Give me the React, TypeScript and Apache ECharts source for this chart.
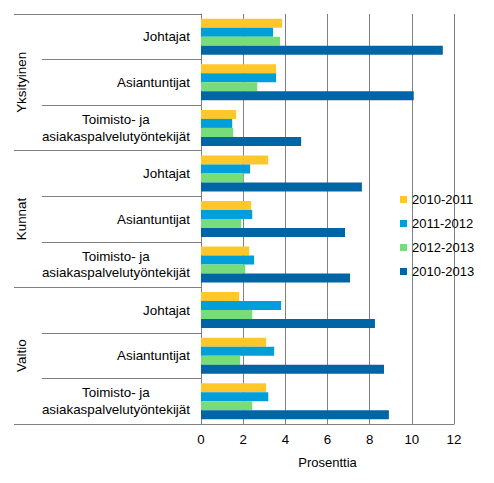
import { useEffect, useRef } from 'react';
import * as echarts from 'echarts';

const groups = ['Yksityinen', 'Kunnat', 'Valtio'];
const occupations = ['Johtajat', 'Asiantuntijat', 'Toimisto- ja\nasiakaspalvelutyöntekijät'];
const categories = groups.flatMap(() => occupations);

const seriesNames = ['2010-2011', '2011-2012', '2012-2013', '2010-2013'];
const values2010_2011 = [3.85, 3.56, 1.67, 3.19, 2.38, 2.29, 1.81, 3.09, 3.09];
const values2011_2012 = [3.42, 3.56, 1.48, 2.33, 2.43, 2.52, 3.8, 3.47, 3.19];
const values2012_2013 = [3.75, 2.67, 1.53, 2.02, 1.91, 2.1, 2.43, 1.86, 2.43];
const values2010_2013 = [11.47, 10.09, 4.75, 7.63, 6.83, 7.07, 8.25, 8.68, 8.91];
const colors = ['#FFC72C', '#009FDA', '#76DD7A', '#0065A4'];

const FONT = '"Liberation Sans", Arial, sans-serif';

export default function App() {
  const chartRef = useRef<HTMLDivElement>(null);

  useEffect(() => {
    if (!chartRef.current) return;
    const chart = echarts.init(chartRef.current, null, { renderer: 'svg' });
    const allValues = [values2010_2011, values2011_2012, values2012_2013, values2010_2013];

    const option: echarts.EChartsOption = {
      animation: false,
      textStyle: { fontFamily: FONT, color: '#000' },
      grid: { left: 201, right: 40, top: 14, bottom: 59 },
      legend: {
        orient: 'vertical',
        left: 395,
        top: 188,
        itemWidth: 7,
        itemHeight: 7,
        itemGap: 11,
        icon: 'rect',
        data: seriesNames,
        textStyle: { fontFamily: FONT, fontSize: 13, color: '#000' },
      },
      xAxis: {
        type: 'value',
        min: 0,
        max: 12,
        interval: 2,
        name: 'Prosenttia',
        nameLocation: 'middle',
        nameGap: 32,
        nameTextStyle: { fontFamily: FONT, fontSize: 13, color: '#000' },
        axisLine: { show: true, lineStyle: { color: '#808080', width: 1 } },
        axisTick: { show: false },
        axisLabel: { fontFamily: FONT, fontSize: 13.3, color: '#000', margin: 9 },
        splitLine: { show: true, lineStyle: { color: '#808080', width: 1 } },
      },
      yAxis: [
        {
          type: 'category',
          data: categories,
          inverse: true,
          axisLine: { show: true, lineStyle: { color: '#808080', width: 1 } },
          axisTick: { show: true, length: 159, interval: 0, lineStyle: { color: '#808080', width: 1 } },
          axisLabel: {
            interval: 0,
            margin: 11,
            formatter: (v: string) => v.split('\n').map((l) => `{c|${l}}`).join('\n'),
            rich: {
              c: { align: 'center', fontFamily: FONT, fontSize: 13.4, color: '#000', lineHeight: 16.5 },
            },
          },
        },
        {
          type: 'category',
          data: groups,
          inverse: true,
          position: 'left',
          axisLine: { show: false },
          axisTick: { show: true, length: 187, interval: 0, lineStyle: { color: '#808080', width: 1 } },
          axisLabel: { interval: 0, rotate: 90, margin: 173, fontFamily: FONT, fontSize: 13.4, color: '#000' },
        },
      ],
      series: seriesNames.map((name, i) => ({
        name,
        type: 'bar',
        yAxisIndex: 0,
        data: allValues[i],
        barWidth: 9,
        barGap: '0%',
        itemStyle: { color: colors[i] },
      })),
    };
    chart.setOption(option);
    return () => chart.dispose();
  }, []);

  return (
    <div
      ref={chartRef}
      style={{ position: 'absolute', left: 0, top: 0, width: 494, height: 483 }}
    />
  );
}
